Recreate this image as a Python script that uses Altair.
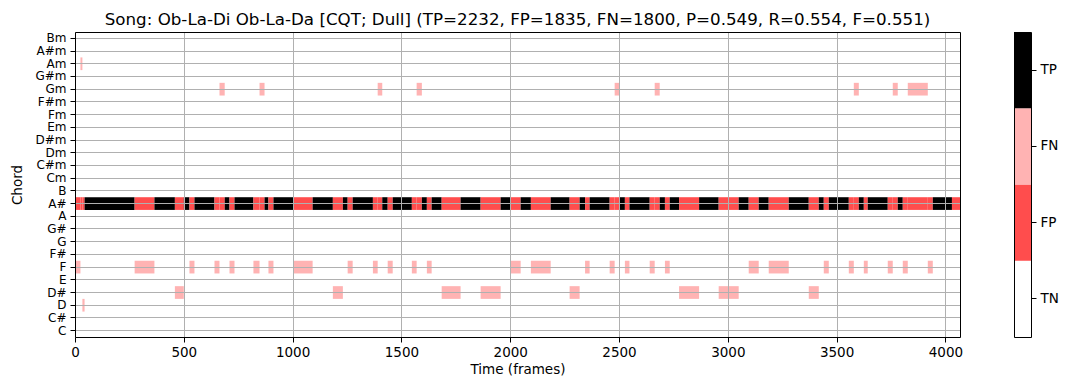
import altair as alt
import pandas as pd

# ---------------- data ----------------
chords = ["C", "C#", "D", "D#", "E", "F", "F#", "G", "G#", "A", "A#", "B",
          "Cm", "C#m", "Dm", "D#m", "Em", "Fm", "F#m", "Gm", "G#m", "Am", "A#m", "Bm"]

# segment boundaries (frames) of the reference annotation
boundaries = [0, 25, 34, 44, 274, 365, 459, 500, 526, 549,
              641, 664, 688, 710, 733, 820, 848, 871, 889, 912,
              1003, 1092, 1185, 1231, 1253, 1276, 1369, 1391, 1412, 1437,
              1460, 1548, 1570, 1594, 1617, 1639, 1685, 1772, 1864, 1956,
              2002, 2048, 2095, 2186, 2273, 2319, 2344, 2365, 2457, 2480,
              2502, 2527, 2548, 2641, 2664, 2687, 2711, 2733, 2776, 2868,
              2958, 3050, 3096, 3142, 3188, 3280, 3372, 3418, 3441, 3464,
              3556, 3579, 3602, 3625, 3643, 3735, 3758, 3781, 3804, 3827,
              3919, 3942, 4030, 4067]

# reference chord of each segment ("N" = no chord)
ref_chords = ["F", "Am", "D", "A#", "F", "A#", "D#", "A#", "F", "A#",
              "F", "Gm", "A#", "F", "A#", "F", "Gm", "A#", "F", "A#",
              "F", "A#", "D#", "A#", "F", "A#", "F", "Gm", "A#", "F",
              "A#", "F", "Gm", "A#", "F", "A#", "D#", "A#", "D#", "A#",
              "F", "A#", "F", "A#", "D#", "A#", "F", "A#", "F", "Gm",
              "A#", "F", "A#", "F", "Gm", "A#", "F", "A#", "D#", "A#",
              "D#", "A#", "F", "A#", "F", "A#", "D#", "A#", "F", "A#",
              "F", "Gm", "A#", "F", "A#", "F", "Gm", "A#", "F", "Gm",
              "F", "A#", "N"]

# the ("dull") estimate is the same chord throughout
pred_chord = "A#"

kinds = ["TN", "FP", "FN", "TP"]
kind_colors = ["#ffffff", "#ff4d4d", "#ffb3b3", "#000000"]

x_ticks = [0, 500, 1000, 1500, 2000, 2500, 3000, 3500, 4000]
n_frames = 4067

title_text = ("Song: Ob-La-Di Ob-La-Da [CQT; Dull] (TP=2232, FP=1835, FN=1800, "
              "P=0.549, R=0.554, F=0.551)")

# ---------------- build cells ----------------
rows = []
for i, ref in enumerate(ref_chords):
    s, e = boundaries[i], boundaries[i + 1]
    if ref == pred_chord:
        rows.append(dict(start=s, end=e, chord=pred_chord, kind="TP"))
    else:
        rows.append(dict(start=s, end=e, chord=pred_chord, kind="FP"))
        if ref in chords:
            rows.append(dict(start=s, end=e, chord=ref, kind="FN"))
df = pd.DataFrame(rows)

FONT = "DejaVu Sans"
FS = 13.5
FSY = 12
GRID = "#b0b0b0"
W, H = 885, 305

color_scale = alt.Scale(domain=kinds, range=kind_colors)
x_scale = alt.Scale(domain=[0, n_frames], nice=False, zero=False)
y_scale = alt.Scale(domain=chords[::-1], paddingInner=0, paddingOuter=0)

base = alt.Chart(df)

cells = base.mark_rect(strokeWidth=0).encode(
    x=alt.X("start:Q", scale=x_scale,
            axis=alt.Axis(orient="bottom", values=x_ticks, format="d",
                          title="Time (frames)",
                          grid=True, gridColor=GRID, gridWidth=1,
                          ticks=True, tickColor="black", tickSize=5, tickWidth=1,
                          domain=True, domainColor="black", domainWidth=1,
                          labelFontSize=FS, labelColor="black", labelPadding=3,
                          labelFont=FONT, titleFont=FONT, titleFontSize=FS,
                          titleFontWeight="normal", titleColor="black",
                          titlePadding=4, labelFlush=False, zindex=1)),
    x2="end:Q",
    y=alt.Y("chord:O", scale=y_scale,
            axis=alt.Axis(orient="left", title="Chord", bandPosition=0.5,
                          grid=True, gridColor=GRID, gridWidth=1,
                          ticks=True, tickColor="black", tickSize=5, tickWidth=1,
                          domain=True, domainColor="black", domainWidth=1,
                          labelFontSize=FSY, labelColor="black", labelPadding=4,
                          labelFont=FONT, titleFont=FONT, titleFontSize=FS,
                          titleFontWeight="normal", titleColor="black",
                          titlePadding=10, zindex=1)),
    color=alt.Color("kind:N", scale=color_scale, legend=None),
)

frame = base.mark_rect(opacity=0).encode(
    x=alt.X("start:Q", scale=x_scale,
            axis=alt.Axis(orient="top", labels=False, ticks=False, grid=False,
                          title=None, domain=True, domainColor="black",
                          domainWidth=1, zindex=2)),
    x2="end:Q",
    y=alt.Y("chord:O", scale=y_scale,
            axis=alt.Axis(orient="right", labels=False, ticks=False, grid=False,
                          title=None, domain=True, domainColor="black",
                          domainWidth=1, zindex=2)),
)

main = alt.layer(cells, frame).resolve_axis(
    x="independent", y="independent"
).properties(
    width=W, height=H,
    title=alt.Title(title_text, fontSize=16.7, fontWeight="normal", font=FONT,
                    color="black", anchor="middle", frame="group", offset=3),
)

# ---------------- colorbar ----------------
cb_df = pd.DataFrame({"kind": kinds, "x0": [0] * 4, "x1": [1] * 4})
cb_x = alt.Scale(domain=[0, 1], nice=False, zero=False)
cb_y = alt.Scale(domain=kinds[::-1], paddingInner=0, paddingOuter=0)

cb_base = alt.Chart(cb_df)
cb_rects = cb_base.mark_rect(strokeWidth=0).encode(
    x=alt.X("x0:Q", scale=cb_x,
            axis=alt.Axis(orient="bottom", labels=False, ticks=False, grid=False,
                          title=None, domain=True, domainColor="black", zindex=2)),
    x2="x1:Q",
    y=alt.Y("kind:N", scale=cb_y, sort=kinds[::-1],
            axis=alt.Axis(orient="right", title=None, grid=False,
                          ticks=True, tickColor="black", tickSize=5,
                          domain=True, domainColor="black",
                          labelFontSize=FS, labelColor="black", labelFont=FONT,
                          labelPadding=4, zindex=2)),
    color=alt.Color("kind:N", scale=color_scale, legend=None),
)
cb_frame = cb_base.mark_rect(opacity=0).encode(
    x=alt.X("x0:Q", scale=cb_x,
            axis=alt.Axis(orient="top", labels=False, ticks=False, grid=False,
                          title=None, domain=True, domainColor="black", zindex=2)),
    x2="x1:Q",
    y=alt.Y("kind:N", scale=cb_y, sort=kinds[::-1],
            axis=alt.Axis(orient="left", labels=False, ticks=False, grid=False,
                          title=None, domain=True, domainColor="black", zindex=2)),
)
colorbar = alt.layer(cb_rects, cb_frame).resolve_axis(
    x="independent", y="independent"
).properties(width=17, height=H)

chart = alt.hconcat(main, colorbar, spacing=54, bounds="flush").properties(
    padding={"left": 10, "top": 11, "right": 5, "bottom": 5},
).configure_view(stroke=None).configure(font=FONT)

chart.save("out.html", embed_options={"renderer": "svg", "actions": False})
